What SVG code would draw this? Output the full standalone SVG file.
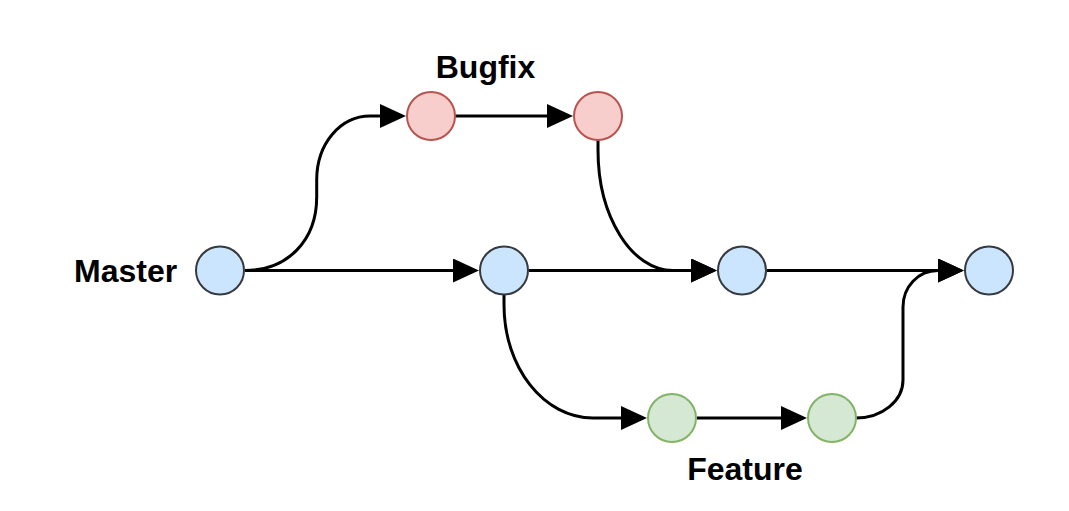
<svg xmlns="http://www.w3.org/2000/svg" width="1069" height="511" viewBox="0 0 1069 511">
<defs>
<style>
.edge{fill:none;stroke:#000;stroke-width:3;marker-end:url(#arr)}
.blue{fill:#cce5ff;stroke:#36393d;stroke-width:2}
.red{fill:#f8cecc;stroke:#b85450;stroke-width:2}
.green{fill:#d5e8d4;stroke:#82b366;stroke-width:2}
.lbl{font-family:"Liberation Sans",Arial,sans-serif;font-weight:bold;font-size:32px;fill:#000}
</style>
<marker id="arr" markerUnits="userSpaceOnUse" viewBox="0 0 26 24" refX="0" refY="12" markerWidth="26" markerHeight="24" orient="auto">
<path d="M0,0 L26,12 L0,24 Z" fill="#000"/>
</marker>
</defs>
<rect width="1069" height="511" fill="#fff"/>
<g id="connectors">
<path class="edge" d="M245,270.5 L453,270.5"/>
<path class="edge" d="M245,270.5 C288,270.5 316.7,240 316.7,197 L316.7,180 C316.7,143.3 340.7,116 370,116 L380,116"/>
<path class="edge" d="M455,116 L547,116"/>
<path class="edge" d="M598,140 L598,150 C598,216.5 631.6,270.5 673,270.5 L691,270.5"/>
<path class="edge" d="M529,270.5 L691,270.5"/>
<path class="edge" d="M504,295 L504,305 C504,367.4 543.8,418 593,418 L621,418"/>
<path class="edge" d="M697,418 L781,418"/>
<path class="edge" d="M767,270.5 L938,270.5"/>
<path class="edge" d="M856,418 C882,418 903,401 903,380 L903,307 C903,287 918,270.5 938,270.5"/>
</g>
<g id="master1"><circle class="blue" cx="220" cy="270.5" r="24"/><text class="lbl" x="74" y="282">Master</text></g>
<g id="master2"><circle class="blue" cx="504" cy="270.5" r="24"/></g>
<g id="master3"><circle class="blue" cx="742" cy="270.5" r="24"/></g>
<g id="master4"><circle class="blue" cx="989" cy="270.5" r="24"/></g>
<g id="bugfix1"><circle class="red" cx="431" cy="116" r="24"/></g>
<g id="bugfix2"><circle class="red" cx="598" cy="116" r="24"/></g>
<g id="bugfix-label"><text class="lbl" x="485.5" y="78" text-anchor="middle">Bugfix</text></g>
<g id="feature1"><circle class="green" cx="672" cy="418" r="24"/></g>
<g id="feature2"><circle class="green" cx="832" cy="418" r="24"/></g>
<g id="feature-label"><text class="lbl" x="745" y="480" text-anchor="middle">Feature</text></g>
</svg>
